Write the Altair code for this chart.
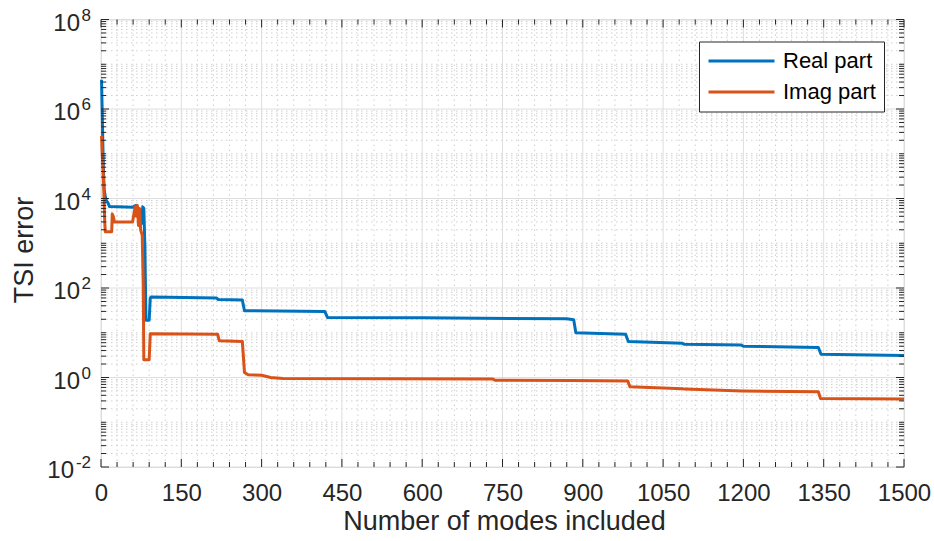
import altair as alt
import pandas as pd

# ---- series values ----
real_modes = [1, 2, 3, 4, 5, 6, 8, 10, 13, 16, 60, 63, 66, 70, 73, 76, 78, 80, 82, 84, 90, 92, 94,
              216, 219, 264, 268, 418, 423, 600, 870, 883, 887, 980, 985, 1086, 1090, 1196, 1200,
              1340, 1345, 1500]
real_vals = [4.5e6, 1.2e6, 3e5, 8e4, 3e4, 1.6e4, 1.1e4, 9e3, 8e3, 6.6e3, 6.4e3, 6.8e3, 7e3, 5e3,
             2.5e3, 2.8e3, 6.5e3, 6e3, 800, 19, 19, 60, 63,
             60, 55, 54, 31, 30, 22, 21.5, 20.5, 19.5, 10, 9.2, 6.4, 5.8, 5.5, 5.3, 5.0,
             4.7, 3.3, 3.1]

imag_modes = [1, 2, 3, 4, 5, 6, 7, 8, 20, 21, 23, 25, 59, 62, 64, 66, 68, 70, 72, 74, 77, 79, 80,
              90, 92, 218, 221, 264, 268, 275, 300, 317, 340, 732, 736, 880, 984, 988, 1086, 1090,
              1198, 1340, 1344, 1500]
imag_vals = [2.5e5, 1.2e5, 7e4, 4e4, 2e4, 7e3, 3e3, 1.8e3, 1.8e3, 4.5e3, 4e3, 3e3, 3e3, 5e3, 6.5e3,
             4e3, 7e3, 2.5e3, 6e3, 2e3, 1.5e3, 100, 2.5,
             2.5, 9.5, 9.2, 6.6, 6.4, 1.3, 1.15, 1.12, 1.0, 0.95, 0.93, 0.87, 0.86, 0.84, 0.62, 0.56,
             0.55, 0.5, 0.48, 0.34, 0.33]

series_names = ["Real part", "Imag part"]
series_colors = ["#0072BD", "#D95319"]

# ---- axis ticks ----
x_major = list(range(0, 1501, 150))
x_minor = [v for v in range(0, 1501, 30) if v % 150 != 0]
y_exponents = list(range(-2, 9, 2))
y_major = [10.0 ** e for e in y_exponents]
y_minor = [m * 10.0 ** e for e in range(-2, 8) for m in range(2, 10)] + \
          [10.0 ** e for e in range(-1, 8, 2)]

W, H = 803, 447.5
FONT = "Liberation Sans"
INK = "#262626"

xscale = alt.Scale(domain=[0, 1500], nice=False, zero=False)
yscale = alt.Scale(type="log", domain=[1e-2, 1e8], nice=False)

x_axis = alt.Axis(values=x_major, format="d", grid=False, ticks=False, tickSize=0, domain=False,
                  labelFontSize=24, labelFont=FONT, labelColor=INK, labelPadding=33,
                  labelBaseline="alphabetic", labelFlush=False,
                  title="Number of modes included", titleFontSize=27, titleFont=FONT,
                  titleColor=INK, titleFontWeight="normal", titleX=403, titleY=62,
                  titleBaseline="alphabetic")
y_axis = alt.Axis(labels=False, grid=False, ticks=False, domain=False,
                  title="TSI error", titleFontSize=27, titleFont=FONT, titleColor=INK,
                  titleFontWeight="normal", titleX=-69, titleY=230, titleAngle=-90,
                  titleBaseline="alphabetic", titleAlign="center")

lines_df = pd.concat([
    pd.DataFrame({"modes": real_modes, "err": real_vals, "series": series_names[0], "o": range(len(real_modes))}),
    pd.DataFrame({"modes": imag_modes, "err": imag_vals, "series": series_names[1], "o": range(len(imag_modes))}),
])

xminor_df = pd.DataFrame({"modes": x_minor})
xmajor_df = pd.DataFrame({"modes": x_major})
yminor_df = pd.DataFrame({"err": y_minor})
ymajor_df = pd.DataFrame({"err": y_major})
ylab_df = pd.DataFrame({"err": y_major, "e": y_exponents})

X = alt.X("modes:Q", scale=xscale, axis=x_axis)
Y = alt.Y("err:Q", scale=yscale, axis=y_axis)

# dotted minor grid
grid_minor_x = alt.Chart(xminor_df).mark_rule(color="#cfcfcf", strokeWidth=1, strokeDash=[1.5, 3.5]).encode(
    x=X, y=alt.value(0), y2=alt.value(H))
grid_minor_y = alt.Chart(yminor_df).mark_rule(color="#cfcfcf", strokeWidth=1, strokeDash=[1.5, 3.5]).encode(
    y=Y, x=alt.value(0), x2=alt.value(W))
# solid major grid
grid_major_x = alt.Chart(xmajor_df).mark_rule(color="#dedede", strokeWidth=1).encode(
    x=X, y=alt.value(0), y2=alt.value(H))
grid_major_y = alt.Chart(ymajor_df).mark_rule(color="#dedede", strokeWidth=1).encode(
    y=Y, x=alt.value(0), x2=alt.value(W))

lines = alt.Chart(lines_df).mark_line(strokeWidth=3, strokeJoin="round").encode(
    x=X, y=Y,
    color=alt.Color("series:N", scale=alt.Scale(domain=series_names, range=series_colors),
                    legend=alt.Legend(orient="none", legendX=598, legendY=22, title=None,
                                      symbolType="M-1,0H5.6", symbolSize=400, symbolStrokeWidth=3,
                                      labelFontSize=22, labelFont=FONT, labelColor="black",
                                      labelOffset=53, padding=8, rowPadding=8,
                                      strokeColor=INK, fillColor="white")),
    order="o:Q",
)

# inward tick marks on all four sides
def xticks(df, length):
    b = alt.Chart(df).mark_rule(color=INK, strokeWidth=1).encode(x=X, y=alt.value(H), y2=alt.value(H - length))
    t = alt.Chart(df).mark_rule(color=INK, strokeWidth=1).encode(x=X, y=alt.value(0), y2=alt.value(length))
    return [b, t]

def yticks(df, length):
    l = alt.Chart(df).mark_rule(color=INK, strokeWidth=1).encode(y=Y, x=alt.value(0), x2=alt.value(length))
    r = alt.Chart(df).mark_rule(color=INK, strokeWidth=1).encode(y=Y, x=alt.value(W), x2=alt.value(W - length))
    return [l, r]

# y tick labels written as 10 with a raised exponent
ylab_base = alt.Chart(ylab_df).transform_calculate(
    px="datum.e < 0 ? -27 : -21"
).mark_text(text="10", align="right", baseline="alphabetic", fontSize=24, font=FONT, color=INK, dy=11).encode(
    y=Y, x=alt.X("px:Q", scale=None, axis=None))
ylab_exp = alt.Chart(ylab_df).transform_calculate(
    lab="'' + datum.e"
).mark_text(align="right", baseline="alphabetic", fontSize=17, font=FONT, color=INK, dy=1).encode(
    y=Y, x=alt.value(-10), text="lab:N")

chart = alt.layer(
    grid_minor_x, grid_minor_y, grid_major_x, grid_major_y,
    lines,
    *xticks(xminor_df, 5), *xticks(xmajor_df, 8), *yticks(yminor_df, 5), *yticks(ymajor_df, 8),
    ylab_base, ylab_exp,
).properties(
    width=W, height=H, autosize="none",
    padding={"left": 101, "top": 19.5, "right": 30, "bottom": 74},
).configure_view(stroke=INK, strokeWidth=1).configure(background="white")

chart.save("out.html", embed_options={"renderer": "svg", "actions": False})
